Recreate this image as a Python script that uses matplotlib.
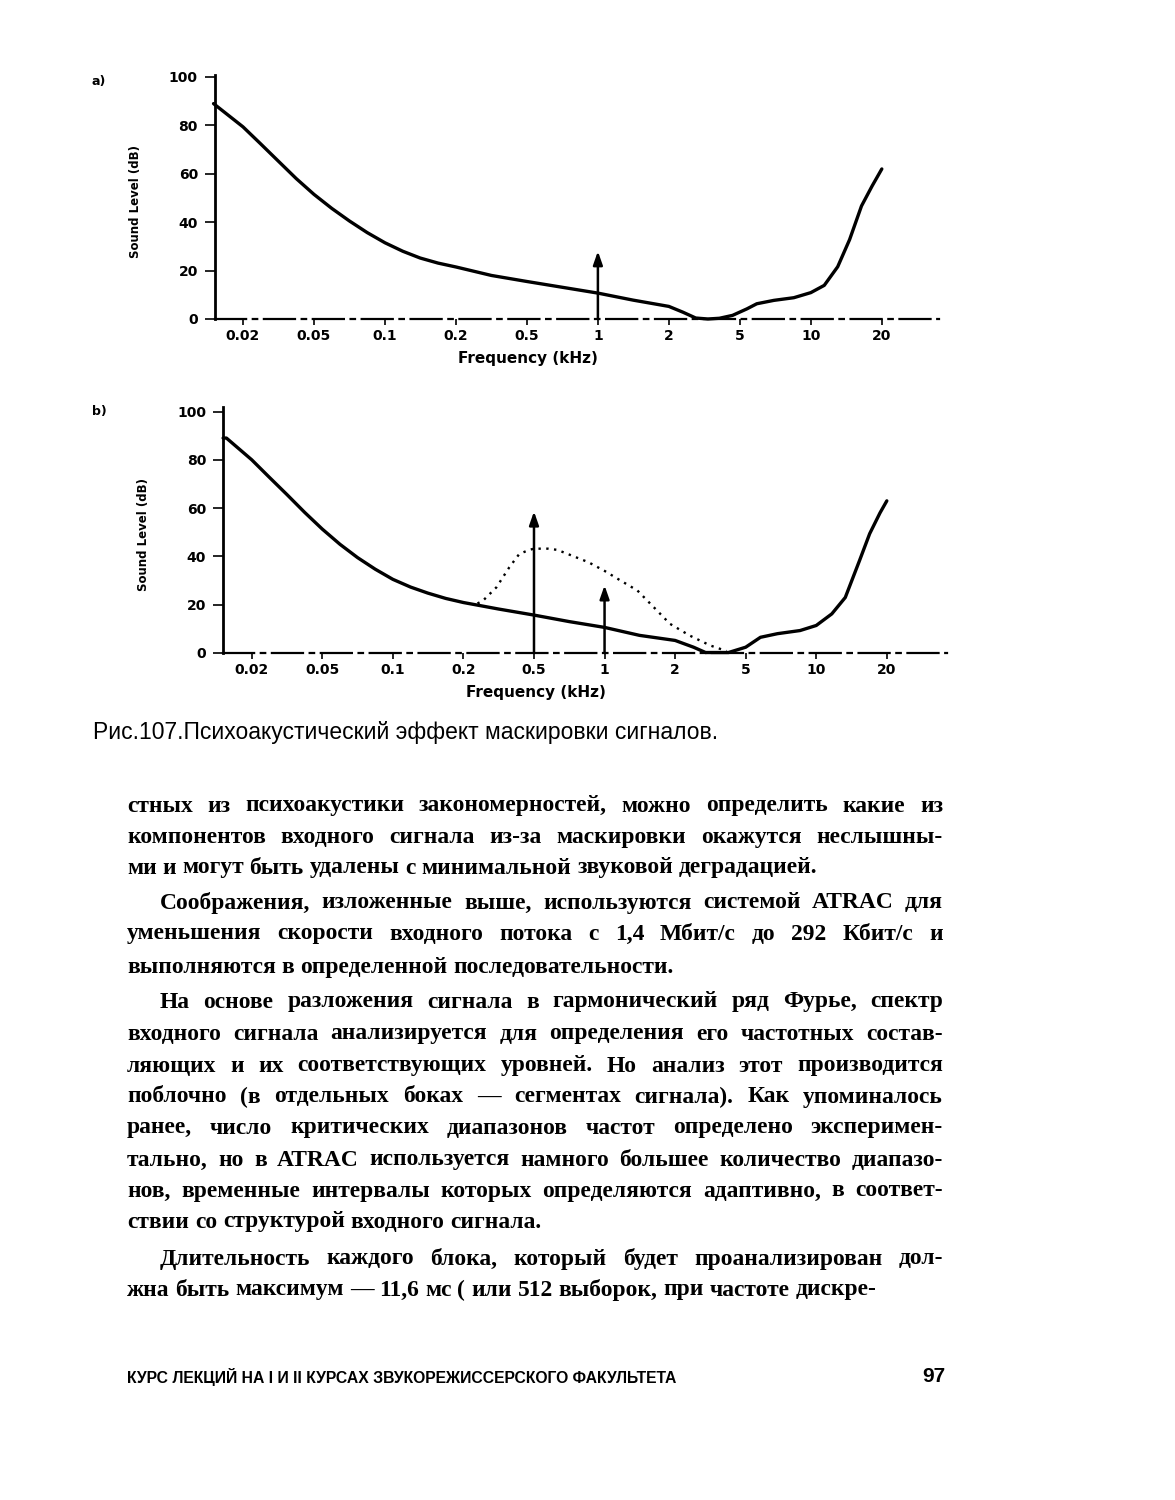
import numpy as np
import matplotlib
matplotlib.use("Agg")
import matplotlib.pyplot as plt

# --- data (frequency in kHz, level in dB) ---
tick_freqs = [0.02, 0.05, 0.1, 0.2, 0.5, 1, 2, 5, 10, 20]
tick_labels = ["0.02", "0.05", "0.1", "0.2", "0.5", "1", "2", "5", "10", "20"]
y_ticks = [0, 20, 40, 60, 80, 100]

# a) threshold in quiet
freq_a = [0.015, 0.02, 0.0251, 0.0316, 0.0398, 0.05, 0.0595, 0.0707, 0.0841, 0.1, 0.119,
          0.141, 0.168, 0.2, 0.316, 0.5, 0.707, 1, 1.41, 2, 2.4, 2.83, 3.31, 3.84, 4.55,
          5.36, 5.9, 6.97, 8.47, 10, 11.4, 13.0, 14.6, 16.4, 18.2, 20]
level_a = [89, 79.4, 72.4, 65.2, 58, 51.5, 45.7, 40.5, 35.7, 31.5, 28,
           25.2, 23.1, 21.5, 18, 15.5, 13.1, 10.7, 7.8, 5.2, 2.8, 0.4, 0, 0.3, 1.5,
           4.2, 6.3, 7.7, 8.8, 10.9, 13.9, 21.6, 32.8, 46.7, 55, 62]

# b) threshold in quiet with two tones
freq_b = [0.0151, 0.0156, 0.02, 0.0251, 0.0316, 0.0398, 0.05, 0.0595, 0.0707, 0.0841, 0.1,
          0.119, 0.141, 0.168, 0.2, 0.258, 0.316, 0.5, 0.707, 1, 1.41, 2, 2.54, 2.97, 4.0,
          5, 5.78, 6.83, 8.53, 10, 11.65, 13.3, 15.3, 16.9, 18.7, 20]
level_b = [89, 89, 80, 72.8, 65.6, 58.2, 51.3, 45, 39.5, 34.7, 30.5,
           27.3, 24.8, 22.6, 20.9, 19.4, 18.2, 15.7, 13, 10.6, 7.3, 5.2, 2.4, 0.2, 0.2,
           2.4, 6.5, 8, 9.3, 11.4, 16.2, 23, 38.3, 49.4, 58, 63]

# b) masking curve of the 0.5 kHz tone (dotted)
mask_freq = [0.24, 0.258, 0.307, 0.363, 0.413, 0.47, 0.5, 0.574, 0.629, 0.722, 0.853,
             1, 1.17, 1.38, 1.62, 1.9, 2.42, 3.16, 3.9]
mask_level = [20.5, 21.7, 27.2, 35.5, 41, 42.7, 43.2, 43.2, 42.7, 40.4, 37.6,
              34, 30, 25.9, 19, 12.1, 7.2, 3.1, 0.8]

tone_a = [(1, 28)]
tones_b = [(0.5, 58.6), (1, 28)]

caption = "Рис.107.Психоакустический эффект маскировки сигналов."
paragraphs = [
    (False, ["стных из психоакустики закономерностей, можно определить какие из",
             "компонентов входного сигнала из-за маскировки окажутся неслышны-",
             "ми и могут быть удалены с минимальной звуковой деградацией."]),
    (True, ["Соображения, изложенные выше, используются системой ATRAC для",
            "уменьшения скорости входного потока с 1,4 Мбит/с до 292 Кбит/с и",
            "выполняются в определенной последовательности."]),
    (True, ["На основе разложения сигнала в гармонический ряд Фурье, спектр",
            "входного сигнала анализируется для определения его частотных состав-",
            "ляющих и их соответствующих уровней. Но анализ этот производится",
            "поблочно (в отдельных боках — сегментах сигнала). Как упоминалось",
            "ранее, число критических диапазонов частот определено эксперимен-",
            "тально, но в ATRAC используется намного большее количество диапазо-",
            "нов, временные интервалы которых определяются адаптивно, в соответ-",
            "ствии со структурой входного сигнала."]),
    (True, ["Длительность каждого блока, который будет проанализирован дол-",
            "жна быть максимум — 11,6 мс ( или 512 выборок, при частоте дискре-"]),
]
line_y = [806, 837, 868, 903, 934, 967, 1002, 1034, 1066, 1097, 1128, 1160, 1191, 1222, 1259, 1290]
footer = "КУРС ЛЕКЦИЙ НА I И II КУРСАХ ЗВУКОРЕЖИССЕРСКОГО ФАКУЛЬТЕТА"
page_no = "97"

W, H = 1175, 1500
fig = plt.figure(figsize=(W / 100, H / 100), dpi=100)
fig.patch.set_facecolor("white")
r = fig.canvas.get_renderer()

# frequency axis of the original: each labelled frequency equally spaced
anc_f = np.log10([0.01] + tick_freqs + [50])
anc_i = np.arange(-1, len(tick_freqs) + 1)


def fwd(f):
    return np.interp(np.log10(np.clip(f, 1e-6, None)), anc_f, anc_i)


def inv(i):
    return 10 ** np.interp(i, anc_i, anc_f)


tick_font = dict(family="DejaVu Sans", weight="bold", size=10)


def make_axes(rect, xr, ytop, curve_f, curve_db, tones, mask=None, letter="a)", letter_y=82):
    ax = fig.add_axes(rect)
    ax.set_xscale("function", functions=(fwd, inv))
    ax.set_xlim(inv(xr[0]), inv(xr[1]))
    ax.set_ylim(0, ytop)
    ax.plot(curve_f, curve_db, color="black", lw=2.4, solid_capstyle="round",
            solid_joinstyle="round", clip_on=False)
    if mask is not None:
        ax.plot(mask[0], mask[1], color="black", lw=1.7, linestyle=(0, (1, 2.3)))
    for f, top in tones:
        ax.annotate("", xy=(f, top), xytext=(f, 0),
                    arrowprops=dict(arrowstyle="-|>,head_width=0.28,head_length=0.8",
                                    color="black", lw=1.8, shrinkA=0, shrinkB=0))
    for s in ("top", "right"):
        ax.spines[s].set_visible(False)
    ax.spines["left"].set_linewidth(2)
    ax.spines["bottom"].set_linewidth(1.6)
    ax.spines["bottom"].set_linestyle((0, (14, 3, 2, 3)))
    ax.set_xticks(tick_freqs)
    ax.set_xticklabels(tick_labels, fontdict=tick_font)
    ax.xaxis.set_minor_locator(matplotlib.ticker.NullLocator())
    ax.set_yticks(y_ticks)
    ax.set_yticklabels([str(v) for v in y_ticks], fontdict=tick_font)
    ax.tick_params(axis="x", direction="out", length=4, width=1.2, pad=3)
    ax.tick_params(axis="y", direction="out", length=7, width=1.2, pad=5)
    ax.set_xlabel("Frequency (kHz)", fontdict=dict(family="DejaVu Sans", weight="bold", size=11))
    ax.xaxis.set_label_coords(0.433, -0.13)
    ax.set_ylabel("Sound Level (dB)", fontdict=dict(family="DejaVu Sans", weight="bold", size=8.5))
    ax.yaxis.set_label_coords(-0.1, 0.48)
    ax.patch.set_alpha(0)
    fig.text(92 / W, 1 - letter_y / H, letter, fontsize=9, fontweight="bold", va="center")
    return ax


# a) 0.02 kHz at x=243 px, 71 px per label, 0 dB at y=319, 2.42 px per dB
make_axes([214.6 / W, 1 - 319 / H, 724 / W, 101 * 2.42 / H], (-0.4, 9.8), 101,
          freq_a, level_a, tone_a, letter="a)", letter_y=82)
# b) 0.02 kHz at x=251.7 px, 70.6 px per label, 0 dB at y=653, 2.415 px per dB
make_axes([222.8 / W, 1 - 653 / H, 724 / W, 102 * 2.415 / H], (-0.41, 9.85), 102,
          freq_b, level_b, tones_b, mask=(mask_freq, mask_level), letter="b)", letter_y=412)


def fit_text(x, y, s, width, size=12, **kw):
    t = fig.text(x / W, 1 - y / H, s, fontsize=size, va="center", ha="left", **kw)
    bb = t.get_window_extent(r)
    t.set_fontsize(size * width / bb.width)
    return t


fit_text(93, 732, caption, 625, family=["Liberation Sans", "DejaVu Sans"])

# body text, justified
body_font = dict(family=["Liberation Serif", "DejaVu Serif"], weight="bold")
X0, X1, INDENT = 127, 943, 33
all_lines = []
for indented, lines in paragraphs:
    for k, ln in enumerate(lines):
        all_lines.append((ln, indented and k == 0, k == len(lines) - 1))


def word_w(s, size):
    t = fig.text(0, 0, s, fontsize=size, **body_font)
    w = t.get_window_extent(r).width
    t.remove()
    return w


probe = 10.0
nat = []
for ln, ind, last in all_lines:
    if not last:
        nat.append(word_w(ln, probe) / (X1 - X0 - (INDENT if ind else 0)))
size = probe * 0.955 / max(nat)

space = word_w("a a", size) - 2 * word_w("a", size)
for (ln, ind, last), y in zip(all_lines, line_y):
    words = ln.split(" ")
    xs = X0 + (INDENT if ind else 0)
    widths = [word_w(w, size) for w in words]
    if last or len(words) == 1:
        gap = space
    else:
        gap = (X1 - xs - sum(widths)) / (len(words) - 1)
    x = xs
    for w, ww in zip(words, widths):
        fig.text(x / W, 1 - y / H, w, fontsize=size, va="center", ha="left", **body_font)
        x += ww + gap

fit_text(127, 1377, footer, 553, family=["Liberation Sans Narrow", "Liberation Sans", "DejaVu Sans"],
         weight="bold")
fig.text(945 / W, 1 - 1376 / H, page_no, fontsize=15, fontweight="bold", ha="right", va="center",
         family=["Liberation Sans", "DejaVu Sans"])

fig.savefig("out.png", dpi=100, facecolor="white")
